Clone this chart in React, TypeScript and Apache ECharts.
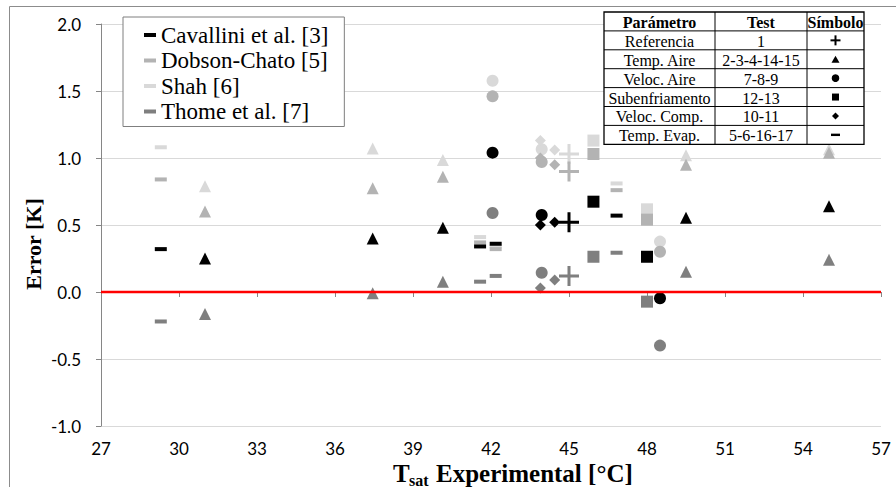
import React, { useEffect, useRef } from "react";
import * as echarts from "echarts";

// ---- Data ----
const seriesNames = ["Cavallini et al. [3]", "Dobson-Chato [5]", "Shah [6]", "Thome et al. [7]"];

// Referencia (test 1) – plus
const refX = [45.0];
const refCav = [0.52];
const refDob = [0.9];
const refShah = [1.03];
const refThome = [0.12];

// Temp. Aire (2-3-4-14-15) – triangle
const tempAireX = [31.0, 37.45, 40.15, 49.5, 55.0];
const tempAireCav = [0.25, 0.4, 0.48, 0.555, 0.64];
const tempAireDob = [0.6, 0.775, 0.86, 0.95, 1.04];
const tempAireShah = [0.79, 1.07, 0.985, 1.02, 1.065];
const tempAireThome = [-0.165, -0.01, 0.077, 0.152, 0.24];

// Veloc. Aire (7-8-9) – circle
const velAireX = [42.06, 43.95, 48.5];
const velAireCav = [1.04, 0.575, -0.047];
const velAireDob = [1.46, 0.97, 0.3];
const velAireShah = [1.577, 1.065, 0.376];
const velAireThome = [0.59, 0.144, -0.4];

// Subenfriamento (12-13) – square
const subenfX = [45.94, 48.0];
const subenfCav = [0.674, 0.263];
const subenfDob = [1.03, 0.54];
const subenfShah = [1.13, 0.617];
const subenfThome = [0.263, -0.072];

// Veloc. Comp. (10-11) – diamond
const velCompX = [43.9, 44.45];
const velCompCav = [0.5, 0.52];
const velCompDob = [1.0, 0.95];
const velCompShah = [1.13, 1.06];
const velCompThome = [0.03, 0.09];

// Temp. Evap. (5-6-16-17) – dash
const tempEvapX = [29.3, 41.58, 42.18, 46.83];
const tempEvapCav = [0.32, 0.34, 0.36, 0.57];
const tempEvapDob = [0.84, 0.37, 0.32, 0.76];
const tempEvapShah = [1.08, 0.41, 0.34, 0.81];
const tempEvapThome = [-0.22, 0.077, 0.12, 0.293];

// Zero reference line
const zeroLineX = [27, 57];
const zeroLineY = [0, 0];

// Table texts
const tableHeader = ["Parámetro", "Test", "Símbolo"];
const tableParams = ["Referencia", "Temp. Aire", "Veloc. Aire", "Subenfriamento", "Veloc. Comp.", "Temp. Evap."];
const tableTests = ["1", "2-3-4-14-15", "7-8-9", "12-13", "10-11", "5-6-16-17"];

// Axis ticks
const xMin = 27, xMax = 57, xStep = 3;
const yMin = -1, yMax = 2, yStep = 0.5;

// ---- Styling ----
const COLORS = ["#000000", "#b3b3b3", "#d9d9d9", "#7f7f7f"];
const PLUS = "path://M8.5,0H11.5V8.5H20V11.5H11.5V20H8.5V11.5H0V8.5H8.5Z";
const SERIF = '"Liberation Serif", serif';

function items(xs: number[], ys: number[], symbol: string, size: any) {
  return xs.map((x, i) => ({ value: [x, ys[i]], symbol, symbolSize: size }));
}

function buildData(k: number) {
  const pick = (arrs: number[][]) => arrs[k];
  return [
    ...items(tempAireX, pick([tempAireCav, tempAireDob, tempAireShah, tempAireThome]), "triangle", 12),
    ...items(velAireX, pick([velAireCav, velAireDob, velAireShah, velAireThome]), "circle", 12),
    ...items(subenfX, pick([subenfCav, subenfDob, subenfShah, subenfThome]), "rect", 12),
    ...items(velCompX, pick([velCompCav, velCompDob, velCompShah, velCompThome]), "diamond", 11),
    ...items(tempEvapX, pick([tempEvapCav, tempEvapDob, tempEvapShah, tempEvapThome]), "rect", [12, 4]),
    ...items(refX, pick([refCav, refDob, refShah, refThome]), PLUS, 20),
  ];
}

function buildTable() {
  const x0 = 604, y0 = 12;
  const colW = [111, 92, 57];
  const W = colW[0] + colW[1] + colW[2];
  const rh = 18.9;
  const H = rh * 7;
  const Z = 100;
  const els: any[] = [];
  els.push({ type: "rect", z: Z, shape: { x: x0, y: y0, width: W, height: H }, style: { fill: "#fff", stroke: "#000", lineWidth: 1.3 } });
  for (let i = 1; i < 7; i++) {
    els.push({ type: "line", z: Z + 1, shape: { x1: x0, y1: y0 + i * rh, x2: x0 + W, y2: y0 + i * rh }, style: { stroke: "#000", lineWidth: 1 } });
  }
  els.push({ type: "line", z: Z + 1, shape: { x1: x0 + colW[0], y1: y0, x2: x0 + colW[0], y2: y0 + H }, style: { stroke: "#000", lineWidth: 1 } });
  els.push({ type: "line", z: Z + 1, shape: { x1: x0 + colW[0] + colW[1], y1: y0, x2: x0 + colW[0] + colW[1], y2: y0 + H }, style: { stroke: "#000", lineWidth: 1 } });
  const cx = [x0 + colW[0] / 2, x0 + colW[0] + colW[1] / 2, x0 + colW[0] + colW[1] + colW[2] / 2];
  tableHeader.forEach((t, j) => {
    els.push({ type: "text", z: Z + 2, style: { text: t, x: cx[j], y: y0 + rh / 2 + 1, align: "center", verticalAlign: "middle", font: `bold 16px ${SERIF}`, fill: "#000" } });
  });
  for (let i = 0; i < 6; i++) {
    const cy = y0 + (i + 1.5) * rh + 1;
    els.push({ type: "text", z: Z + 2, style: { text: tableParams[i], x: cx[0], y: cy, align: "center", verticalAlign: "middle", font: `16px ${SERIF}`, fill: "#000" } });
    els.push({ type: "text", z: Z + 2, style: { text: tableTests[i], x: cx[1], y: cy, align: "center", verticalAlign: "middle", font: `16px ${SERIF}`, fill: "#000" } });
  }
  const c = cx[2];
  const sy = (i: number) => y0 + (i + 1.5) * rh;
  const f = { fill: "#000" };
  els.push({ type: "rect", z: Z + 2, shape: { x: c - 5, y: sy(0) - 1, width: 10, height: 2 }, style: f });
  els.push({ type: "rect", z: Z + 2, shape: { x: c - 1, y: sy(0) - 5, width: 2, height: 10 }, style: f });
  els.push({ type: "polygon", z: Z + 2, shape: { points: [[c - 4, sy(1) + 3.5], [c + 4, sy(1) + 3.5], [c, sy(1) - 3.5]] }, style: f });
  els.push({ type: "circle", z: Z + 2, shape: { cx: c, cy: sy(2), r: 3.8 }, style: f });
  els.push({ type: "rect", z: Z + 2, shape: { x: c - 3.5, y: sy(3) - 3.5, width: 7, height: 7 }, style: f });
  els.push({ type: "polygon", z: Z + 2, shape: { points: [[c, sy(4) - 3.5], [c + 3.5, sy(4)], [c, sy(4) + 3.5], [c - 3.5, sy(4)]] }, style: f });
  els.push({ type: "rect", z: Z + 2, shape: { x: c - 4.5, y: sy(5) - 1.2, width: 9, height: 2.4 }, style: f });
  return els;
}

export default function App() {
  const ref = useRef<HTMLDivElement>(null);
  useEffect(() => {
    if (!ref.current) return;
    const chart = echarts.init(ref.current, null, { renderer: "svg" });
    const drawOrder = [2, 1, 3, 0]; // Shah, Dobson, Thome, Cavallini
    const scatter = drawOrder.map((k) => ({
      name: seriesNames[k],
      type: "scatter",
      data: buildData(k),
      itemStyle: { color: COLORS[k], opacity: 1 },
      z: 2,
    }));
    const option: any = {
      animation: false,
      backgroundColor: "#ffffff",
      grid: { left: 101, right: 15, top: 24, bottom: 61, containLabel: false },
      xAxis: {
        type: "value",
        min: xMin,
        max: xMax,
        interval: xStep,
        axisLine: { show: true, lineStyle: { color: "#868686", width: 1 } },
        axisTick: { show: true, length: 5, lineStyle: { color: "#868686" } },
        axisLabel: { fontFamily: "Lato", fontSize: 17, color: "#000", margin: 14 },
        splitLine: { show: false },
      },
      yAxis: {
        type: "value",
        min: yMin,
        max: yMax,
        interval: yStep,
        axisLine: { show: true, lineStyle: { color: "#868686", width: 1 } },
        axisTick: { show: true, length: 5, lineStyle: { color: "#868686" } },
        axisLabel: { fontFamily: "Lato", fontSize: 17, color: "#000", margin: 20, formatter: (v: number) => v.toFixed(1) },
        splitLine: { show: true, lineStyle: { color: "#d9d9d9", width: 1 } },
      },
      legend: {
        orient: "vertical",
        left: 123,
        top: 17,
        padding: [6, 16, 3, 21],
        itemWidth: 12,
        itemHeight: 4,
        itemGap: 1.5,
        icon: "rect",
        borderColor: "#7f7f7f",
        borderWidth: 1,
        backgroundColor: "#ffffff",
        selectedMode: false,
        textStyle: { fontFamily: "Liberation Serif", fontSize: 23, color: "#000", lineHeight: 24 },
        data: seriesNames,
      },
      series: [
        ...scatter,
        {
          name: "zero",
          type: "line",
          data: zeroLineX.map((x, i) => [x, zeroLineY[i]]),
          symbol: "none",
          lineStyle: { color: "#ff0000", width: 2.5 },
          z: 5,
          silent: true,
        },
      ],
      graphic: [
        { type: "rect", z: -10, silent: true, shape: { x: 9.5, y: 6.5, width: 1000, height: 1000 }, style: { fill: "none", stroke: "#8c8c8c", lineWidth: 1 } },
        { type: "text", z: 50, style: { text: "Error [K]", x: 0, y: 0, align: "center", verticalAlign: "middle", font: `bold 22px ${SERIF}`, fill: "#000" }, x: 33, y: 244, rotation: Math.PI / 2 },
        { type: "text", z: 50, style: { text: "T", x: 393, y: 473, align: "left", verticalAlign: "middle", font: `bold 25px ${SERIF}`, fill: "#000" } },
        { type: "text", z: 50, style: { text: "sat", x: 409, y: 480, align: "left", verticalAlign: "middle", font: `bold 16px ${SERIF}`, fill: "#000" } },
        { type: "text", z: 50, style: { text: "Experimental [°C]", x: 436, y: 473, align: "left", verticalAlign: "middle", font: `bold 25px ${SERIF}`, fill: "#000" } },
        ...buildTable(),
      ],
    };
    chart.setOption(option);
    return () => chart.dispose();
  }, []);
  return (
    <div
      ref={ref}
      style={{ position: "fixed", left: 0, top: 0, width: 896, height: 487, background: "#fff" }}
    />
  );
}
